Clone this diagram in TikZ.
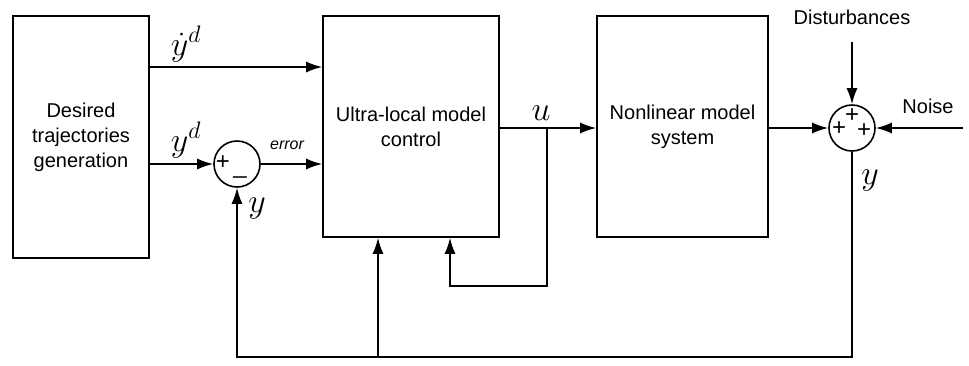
\RequirePackage{fix-cm}
\documentclass[tikz,border=0pt]{standalone}
\usepackage{fontspec}
\setmainfont{Liberation Sans}
\usetikzlibrary{arrows.meta}
\begin{document}
\begin{tikzpicture}[x=1pt,y=-1pt,line width=1.6pt,
  blk/.style={draw,inner sep=0pt,align=center,font=\fontsize{20}{25}\selectfont},
  sumj/.style={draw,circle,minimum size=46pt,inner sep=0pt},
  arr/.style={-{Latex[length=16pt,width=11pt]}},
  lbl/.style={inner sep=0pt,font=\fontsize{20}{24}\selectfont},
  mth/.style={inner sep=0pt,font=\fontsize{34}{34}\selectfont},
  sgn/.style={inner sep=0pt,font=\fontsize{24}{24}\selectfont}]
\useasboundingbox (0,0) rectangle (969,365);
% blocks
\node[blk,minimum width=136pt,minimum height=242pt] (gen) at (81,137) {Desired\\trajectories\\generation};
\node[blk,minimum width=176pt,minimum height=221pt] (ulm) at (411,126.5) {Ultra-local model\\control};
\node[blk,minimum width=171pt,minimum height=221pt] (nl) at (682.5,126.5) {Nonlinear model\\system};
% summing junctions
\node[sumj] (s1) at (237,164) {};
\node[sumj] (s2) at (852,128) {};
% helper coordinates
\coordinate (c1) at (0,67);
\coordinate (fb) at (0,357);
\coordinate (t1) at (378,357);
\coordinate (ub) at (547,128);
\coordinate (ub2) at (547,286);
\coordinate (ub3) at (450,286);
\coordinate (dist) at (852,42);
\coordinate (noise) at (963,128);
% connectors
\draw[arr] (gen.east |- c1) -- (ulm.west |- c1);
\draw[arr] (gen.east |- s1) -- (s1.west);
\draw[arr] (s1.east) -- (ulm.west |- s1);
\draw[arr] (ulm.east |- s2) -- (nl.west |- s2);
\draw[arr] (nl.east |- s2) -- (s2.west);
\draw[arr] (dist) -- (s2.north);
\draw[arr] (noise) -- (s2.east);
\draw[arr] (s2.south) -- (s2 |- fb) -- (s1 |- fb) -- (s1.south);
\draw[arr] (t1) -- (t1 |- ulm.south);
\draw[arr] (ub) -- (ub2) -- (ub3) -- (ub3 |- ulm.south);
% labels
\node[mth] (lyd) at (186,44) {$\dot{y}^{d}$};
\node[mth] (lyd2) at (186,140) {$y^{d}$};
\node[inner sep=0pt,font=\fontsize{16}{16}\selectfont\itshape] (lerr) at (287,145) {error};
\node[mth] (ly1) at (257,208) {$y$};
\node[mth] (lu) at (541,113) {$u$};
\node[mth] (ly2) at (870,180) {$y$};
\node[lbl] (ldist) at (852,17) {Disturbances};
\node[lbl] (lnoise) at (928,106) {Noise};
% signs
\node[sgn] (p1) at (223,163) {+};
\node[sgn] (m1) at (240,176) {\_};
\node[sgn] (p2) at (839,129) {+};
\node[sgn] (p3) at (852,116) {+};
\node[sgn] (p4) at (864,131) {+};
\end{tikzpicture}
\end{document}
